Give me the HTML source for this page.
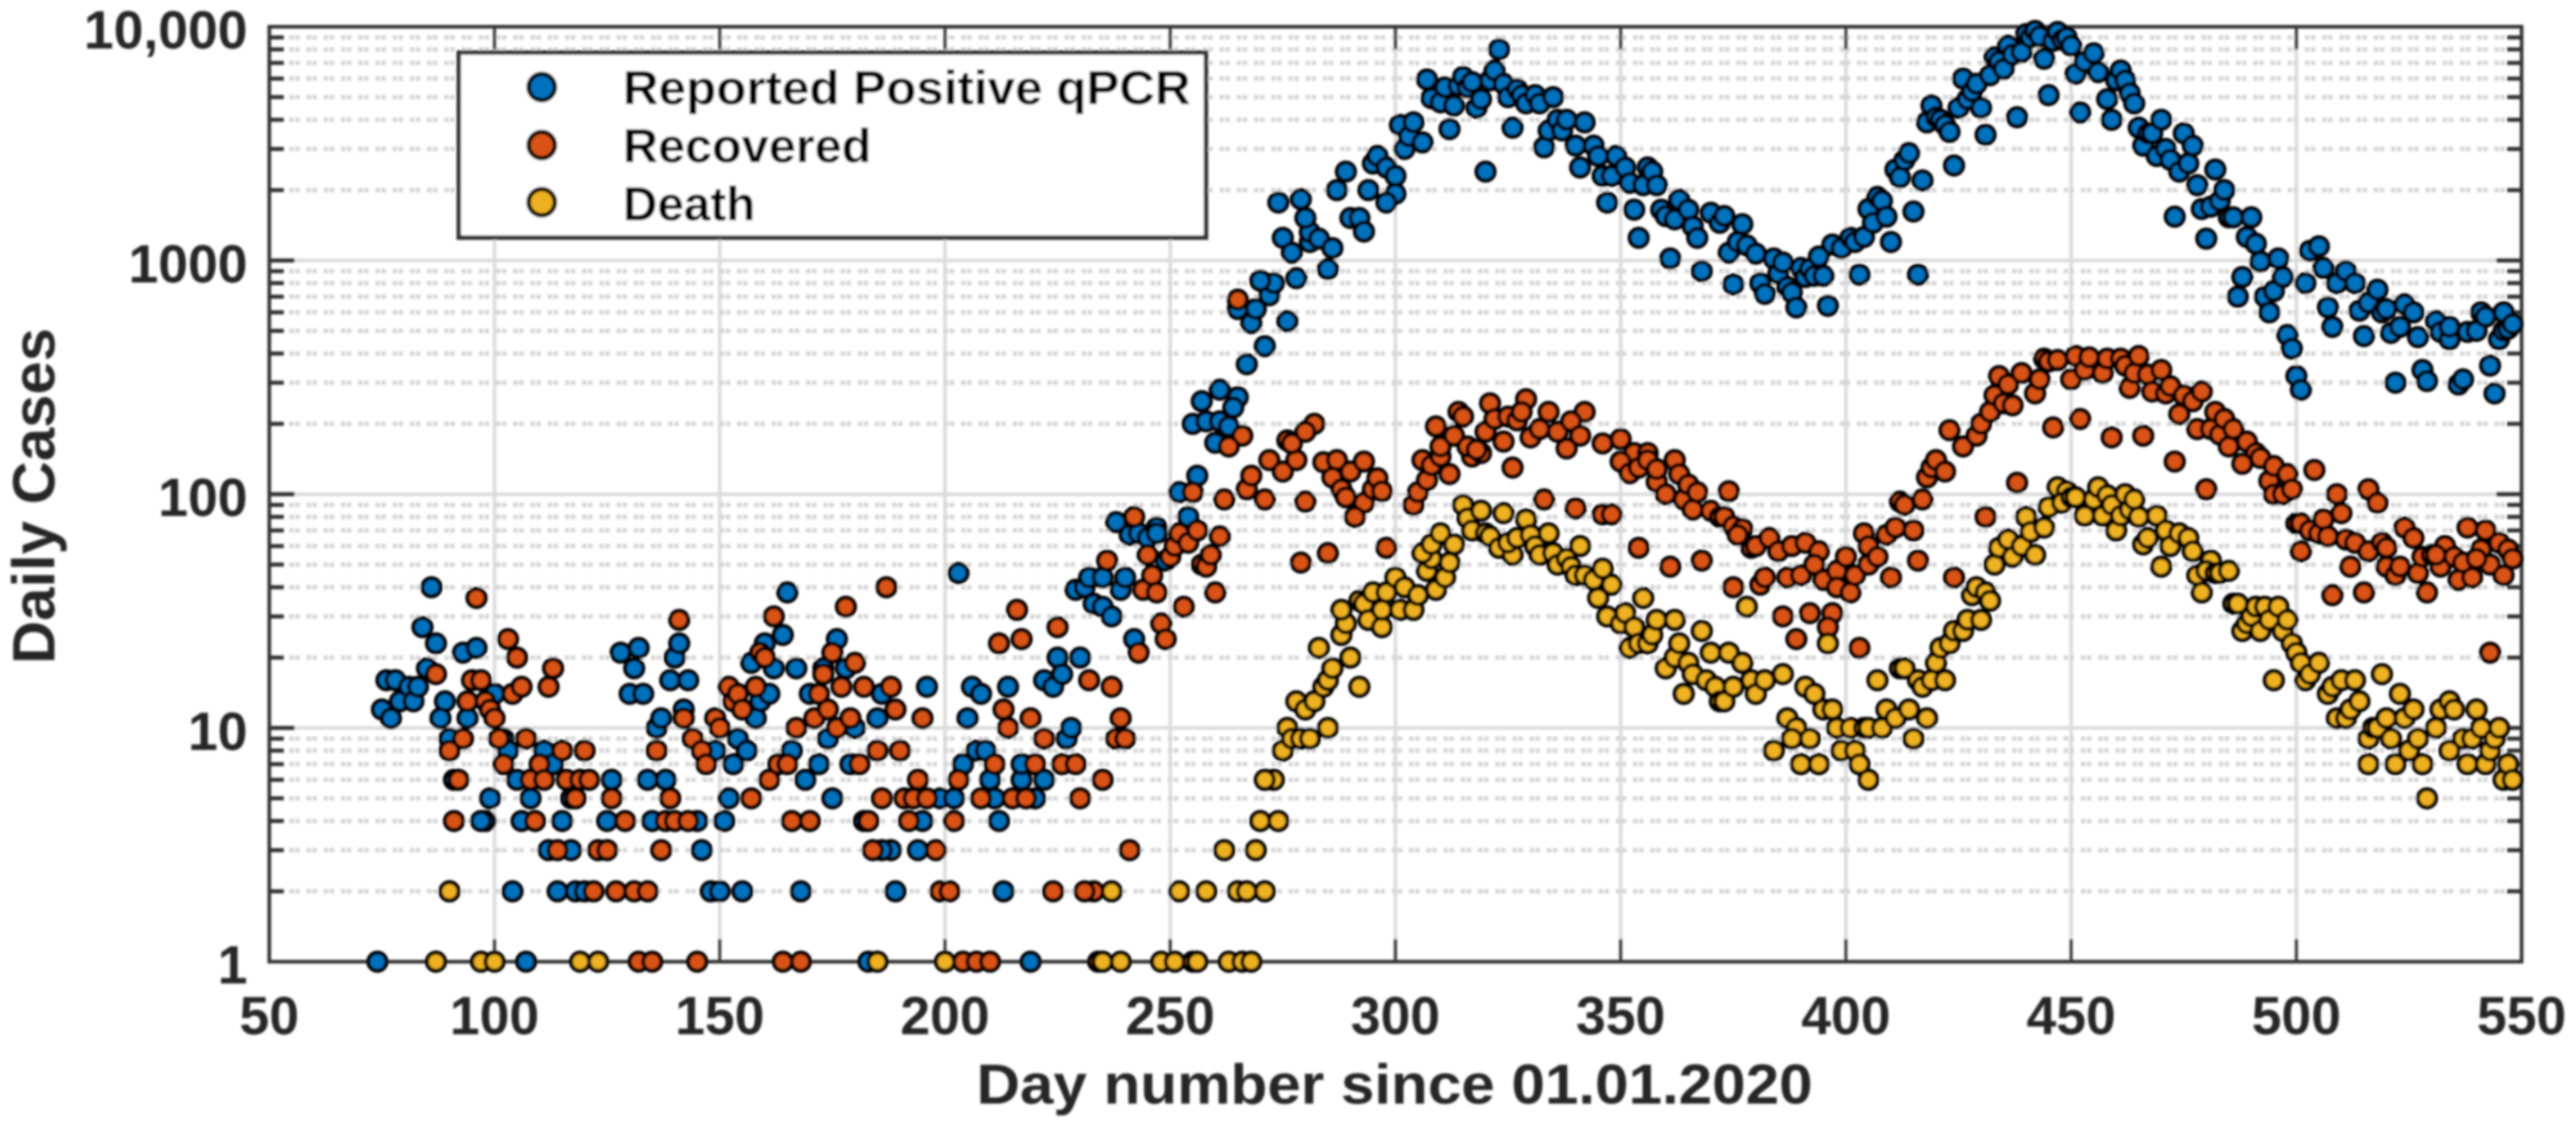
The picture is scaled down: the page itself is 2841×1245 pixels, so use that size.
<!DOCTYPE html>
<html>
<head>
<meta charset="utf-8">
<title>Daily Cases chart</title>
<style>
html,body{margin:0;padding:0;background:#fff;width:2841px;height:1245px;overflow:hidden}
svg{display:block}
text{font-family:"Liberation Sans",Arial,sans-serif;font-weight:bold}
</style>
</head>
<body>
<svg id="chart" xmlns="http://www.w3.org/2000/svg" width="2841" height="1245" viewBox="0 0 2841 1245">
  <defs>
    <filter id="soft" x="-2%" y="-2%" width="104%" height="104%"><feGaussianBlur stdDeviation="1.2"/></filter>
  </defs>
  <g id="root" filter="url(#soft)">
    <g id="grid"></g>
    <g id="axes"></g>
    <g id="marks"></g>
    <text x="1538" y="1217" font-size="62" fill="#262626" text-anchor="middle" textLength="922" lengthAdjust="spacingAndGlyphs">Day number since 01.01.2020</text>
    <text transform="translate(60,547) rotate(-90)" font-size="66" fill="#262626" text-anchor="middle">Daily Cases</text>
    <g>
      <rect x="506" y="58" width="824" height="204" fill="#fff" stroke="#333" stroke-width="5"/>
      <g>
        <circle cx="597.5" cy="96" r="14.5" fill="#0072BD" stroke="#000" stroke-width="5"/>
        <text x="687" y="115" font-size="53" fill="#000" textLength="626" lengthAdjust="spacingAndGlyphs">Reported Positive qPCR</text>
      </g>
      <g>
        <circle cx="597.5" cy="160" r="14.5" fill="#D95319" stroke="#000" stroke-width="5"/>
        <text x="687" y="179" font-size="53" fill="#000" textLength="274" lengthAdjust="spacingAndGlyphs">Recovered</text>
      </g>
      <g>
        <circle cx="597.5" cy="223" r="14.5" fill="#EDB120" stroke="#000" stroke-width="5"/>
        <text x="687" y="243" font-size="53" fill="#000" textLength="146" lengthAdjust="spacingAndGlyphs">Death</text>
      </g>
    </g>
  </g>
</svg>
<script>
const xTickValues = [50,100,150,200,250,300,350,400,450,500,550];
const yTickValues = [1,10,100,1000,10000];
const yTickLabels = ["1","10","100","1000","10,000"];
const minorMultipliers = [2,3,4,5,6,7,8,9];

const reportedDays = [
74,75,77,76,78,79,81,82,83,84,
85,86,87,89,88,90,90,91,93,96,
94,98,97,100,102,103,99,104,105,106,
107,108,111,113,112,115,114,117,117,118,
120,125,126,128,131,132,130,133,134,135,
136,137,138,139,140,141,143,142,145,146,
148,149,150,151,152,153,154,155,156,157,
158,159,160,161,162,164,165,166,167,168,
169,170,172,173,174,175,176,178,179,180,
182,183,185,186,188,189,186,194,195,196,
199,202,203,204,205,206,207,208,209,210,
211,212,213,214,217,217,219,220,222,222,
224,225,226,227,228,230,229,231,232,233,
235,235,237,239,240,238,241,242,243,245,
247,247,249,252,254,256,260,257,255,258,
261,265,261,264,263,267,271,276,268,269,
265,272,273,270,278,275,277,281,281,283,
286,285,274,279,280,287,289,290,292,293,
294,295,296,298,300,300,298,301,302,303,
304,306,307,308,310,311,312,313,314,315,
316,317,318,319,320,321,322,323,324,325,
326,327,328,329,331,332,333,334,335,336,
337,338,340,341,342,344,345,346,347,348,
349,351,352,353,354,355,356,357,358,359,
360,361,362,363,365,366,367,368,370,372,
373,374,376,377,378,380,375,381,382,384,
385,386,387,388,389,390,391,392,393,394,
395,396,397,399,401,402,403,404,405,406,
407,408,409,410,411,412,413,414,415,416,
417,418,419,420,421,422,423,424,425,426,
427,428,429,430,431,432,433,434,435,436,
437,438,439,440,441,442,443,444,445,446,
447,448,449,450,451,452,453,455,456,458,
459,460,461,462,463,464,465,466,467,468,
469,470,471,472,473,474,475,476,477,478,
479,480,481,482,483,484,485,486,488,487,
489,490,491,492,493,494,495,496,497,498,
499,500,501,502,503,505,506,507,508,509,
511,513,514,515,516,518,519,520,521,522,
523,524,526,527,528,529,531,532,534,534,
536,537,538,540,541,542,543,544,545,546,
546,547,548];
const reportedValues = [
1,12,11,16,16,13,15,13,15,27,
18,40,23,13,11,9,2,6,21,22,
11,4,4,14,9,8,5,2,6,4,
1,5,8,7,3,4,2,3,5,2,
2,4,6,21,18,22,14,14,6,4,
10,11,6,16,20,23,16,12,4,3,
2,8,2,4,5,7,9,2,8,19,
11,13,23,14,18,25,38,8,18,2,
6,14,7,18,9,5,24,18,7,10,
4,1,11,14,3,2,3,3,4,15,
5,5,46,7,11,15,8,14,8,6,
5,4,2,15,6,7,1,5,6,16,
15,20,17,9,10,20,39,40,44,34,
44,33,30,39,44,76,67,24,68,65,
72,68,52,102,80,120,166,250,200,205,
280,260,205,235,195,360,430,550,540,620,
620,710,800,820,840,1250,1080,1200,1320,1240,
1130,920,1770,1830,1520,2000,2400,1520,1520,1330,
2000,2600,2800,2500,2300,1930,1770,3800,3000,3400,
3900,3200,5950,4950,4750,5500,3650,4600,5600,6100,
5500,5800,4500,4900,2400,5900,6500,8000,5700,5000,
3700,5400,5100,4700,5100,4700,3050,3600,5000,4000,
3600,4000,3100,2500,3900,3100,2800,2300,1770,2300,
2800,2500,2150,1650,1250,2100,2500,2400,2100,1650,
1550,1020,1500,1820,1650,1400,1250,900,1600,1450,
1550,1080,1200,1430,1160,1070,790,800,720,1020,
880,980,770,730,630,930,850,920,860,1040,
860,640,1170,1130,1250,1200,870,1260,1660,1450,
1870,1800,1540,1200,2450,2270,2690,2880,1620,870,
2200,3900,4600,4100,4000,3800,3550,2550,4500,6000,
4900,5300,5700,4500,3450,6200,7400,7100,6600,8300,
7600,4100,7800,9300,9000,9600,9100,7300,5100,8700,
9500,8800,9000,8300,6300,4300,7100,7700,6400,4900,
4000,5900,6500,5900,5200,4700,3700,3100,3500,3500,
2800,4000,3000,2700,1540,2400,3500,2600,3100,2100,
1660,1240,1700,2450,1800,2000,1530,1530,850,700,
1260,1530,1180,990,700,600,740,1020,850,480,
420,320,280,800,1100,1150,930,630,520,800,
900,800,610,475,660,750,600,620,490,300,
520,650,600,470,340,305,550,495,460,520,
295,310,495,500,600,575,355,270,460,600,
500,510,535];

const recoveredDays = [
87,90,92,91,93,94,95,97,96,98,
99,100,101,103,104,105,106,102,107,108,
109,110,111,112,113,114,115,116,118,119,
120,121,122,123,125,126,127,129,131,134,
136,137,139,138,140,141,142,143,144,146,
147,149,150,152,153,154,155,157,158,159,
160,161,162,163,165,166,167,170,171,172,
173,174,175,176,177,178,179,180,181,182,
183,184,185,186,187,188,189,190,191,192,
132,135,145,164,168,193,194,196,195,198,
199,201,202,203,204,207,210,208,211,212,
213,214,215,216,217,218,219,220,222,224,
225,226,229,230,232,233,231,234,235,237,
238,239,240,241,242,243,244,245,246,247,
236,248,249,250,251,252,253,254,255,256,
257,258,259,260,261,262,267,268,271,272,
275,278,280,279,285,284,287,286,290,293,
288,289,293,291,295,296,297,298,304,305,
307,306,308,310,312,317,319,326,333,340,
346,348,354,361,368,265,282,276,277,280,
266,263,309,314,315,310,313,321,329,334,
342,320,322,324,325,327,328,330,332,336,
339,338,341,346,350,353,356,316,318,350,
352,354,356,358,358,360,362,363,364,365,
366,367,370,372,374,373,375,377,376,379,
380,383,385,388,391,394,375,381,382,387,
390,393,395,398,400,398,401,402,404,405,
405,407,409,410,411,412,413,415,416,417,
418,419,420,422,424,431,438,386,392,397,
396,389,403,423,426,429,430,432,433,435,
434,436,437,439,442,443,444,445,447,450,
451,453,454,457,458,461,462,463,464,465,
467,468,470,471,472,474,475,477,479,478,
481,482,483,484,485,486,489,446,452,459,
466,491,473,480,488,492,494,495,498,495,
497,499,500,501,501,504,503,505,506,507,
509,510,508,511,512,513,515,516,516,518,
519,520,520,522,523,524,526,527,528,529,
530,532,533,535,536,537,538,539,541,542,
543,543,545,546,547,548,540,531];
const recoveredValues = [
17,8,6,4,9,13,16,16,36,13,
12,11,9,24,14,20,15,7,9,6,
4,7,6,15,18,3,8,6,5,6,
8,6,2,3,3,5,2,4,2,2,
8,3,5,4,4,29,11,4,9,8,
7,11,10,15,13,14,12,5,15,21,
20,6,30,7,7,4,10,4,11,14,
17,12,21,10,15,33,11,19,7,15,
4,3,8,5,40,15,12,8,5,4,
1,1,1,1,1,5,6,5,11,3,
2,2,4,6,1,1,1,5,7,23,
12,10,5,32,24,5,11,7,9,2,
27,7,7,5,16,2,2,1,6,15,
9,11,9,3,80,21,39,55,45,38,
52,28,24,54,60,68,33,62,102,70,
50,49,55,38,66,95,105,120,95,140,
125,140,93,51,56,137,140,118,125,138,
105,97,92,80,105,117,103,59,90,102,
115,140,133,145,122,145,150,130,95,87,
82,82,59,49,52,680,200,170,165,185,
178,160,195,225,215,160,178,245,255,225,
225,185,210,168,215,207,225,175,190,185,
205,157,178,165,172,150,150,160,155,138,
123,130,140,113,128,100,140,122,95,110,
86,102,85,80,103,80,73,71,67,59,
60,65,57,60,62,57,40,41,44,44,
45,50,43,47,54,40,38,45,68,50,
60,54,67,44,72,93,90,70,52,95,
118,130,140,125,44,80,112,30,31,31,
27,24,22,188,160,178,200,225,265,245,
320,295,240,330,270,310,380,370,375,310,
390,340,385,330,380,380,355,285,330,390,
325,275,340,270,290,220,265,250,275,190,
190,225,180,210,160,190,168,193,210,175,
178,150,138,105,135,143,114,132,122,100,
100,105,75,57,75,127,70,68,78,66,
100,83,37,64,49,62,38,57,105,92,
62,59,49,45,49,72,65,46,54,38,
55,49,60,54,43,51,72,44,58,70,
21,50,62,45,58,53,53,55];

const deathDays = [
87,97,100,119,123,185,90,200,237,239,
235,248,251,255,256,252,258,262,263,266,
268,265,267,269,271,270,274,273,271,275,
276,277,279,281,278,280,282,285,284,285,
286,283,288,289,288,290,292,292,293,294,
295,297,297,298,300,301,302,304,305,307,
308,309,311,312,306,308,310,313,315,316,
317,319,320,321,323,324,326,325,327,329,
330,331,332,334,335,336,338,339,340,341,
342,344,346,348,345,347,350,351,353,352,
354,356,357,355,358,362,360,362,363,365,
366,368,364,369,371,370,372,374,377,373,
375,378,379,380,382,384,386,387,389,388,
390,391,392,393,394,395,396,397,399,398,
401,402,403,404,405,405,407,408,409,411,
412,413,414,415,416,417,418,419,420,421,
422,423,424,426,427,428,429,430,431,432,
433,434,436,437,439,440,441,442,444,445,
447,449,448,450,451,453,455,456,457,458,
459,460,461,462,463,464,465,466,467,469,
470,471,472,474,476,477,478,479,481,480,
482,483,485,486,487,488,489,490,491,492,
493,494,495,496,497,498,499,500,501,502,
503,505,507,508,509,510,511,512,513,514,
516,516,517,518,519,520,521,522,523,524,
525,526,527,528,529,531,532,534,534,535,
537,538,539,540,541,542,543,544,545,546,
547,548];
const deathValues = [
1,1,1,1,1,1,2,1,2,1,
1,1,1,1,1,2,2,3,1,1,
1,2,2,3,2,4,4,6,6,8,
10,9,9,9,13,12,13,10,15,16,
18,22,25,28,32,20,15,35,34,29,
38,27,32,38,44,32,40,32,37,47,
53,39,44,51,56,61,68,61,90,79,
70,85,68,66,59,83,55,62,65,78,
67,60,55,68,56,50,53,49,45,60,
45,43,48,41,36,30,28,31,27,22,
23,23,25,36,29,29,18,20,23,19,
17,26,14,16,15,21,13,21,19,13,
15,33,16,14,16,8,17,11,10,9,
7,15,9,14,7,12,23,12,8,10,
10,8,7,10,6,10,16,10,12,11,
18,18,12,9,16,15,11,16,19,22,
16,23,26,26,29,37,40,29,38,35,
50,59,64,54,60,80,69,55,72,88,
107,103,92,97,97,81,95,107,81,99,
90,70,81,100,86,95,80,61,65,81,
49,70,60,68,65,57,45,38,52,47,
46,46,47,34,34,26,28,30,33,26,
33,29,16,33,26,29,23,21,19,16,
17,19,14,15,11,16,11,12,16,13,
7,9,10,10,17,11,9,7,14,11,
8,12,9,7,5,10,12,8,13,12,
9,7,9,12,10,7,8,9,10,6,
7,6];

const PLOT_LEFT = 297, PLOT_RIGHT = 2781, PLOT_TOP = 29.5, PLOT_BOTTOM = 1060.5;
const X_MIN = 50, X_MAX = 550, Y_MIN_LOG = 0, Y_MAX_LOG = 4;
const SVG_NS = "http://www.w3.org/2000/svg";

function xScale(day) {
  return PLOT_LEFT + (day - X_MIN) / (X_MAX - X_MIN) * (PLOT_RIGHT - PLOT_LEFT);
}
function yScale(value) {
  return PLOT_BOTTOM - (Math.log10(value) - Y_MIN_LOG) / (Y_MAX_LOG - Y_MIN_LOG) * (PLOT_BOTTOM - PLOT_TOP);
}
function make(parent, tag, props) {
  const el = document.createElementNS(SVG_NS, tag);
  for (const key in props) el.setAttribute(key, props[key]);
  parent.appendChild(el);
  return el;
}
function line(parent, x1, y1, x2, y2, stroke, width, dash) {
  const props = {x1: x1, y1: y1, x2: x2, y2: y2, stroke: stroke, "stroke-width": width};
  if (dash) props["stroke-dasharray"] = dash;
  return make(parent, "line", props);
}

const gridLayer = document.getElementById("grid");
const axesLayer = document.getElementById("axes");
const marksLayer = document.getElementById("marks");

/* vertical major grid + x ticks */
xTickValues.forEach(function (tick) {
  const x = xScale(tick);
  if (tick !== X_MIN && tick !== X_MAX) {
    const g = line(gridLayer, x, PLOT_TOP, x, PLOT_BOTTOM, "#dcdcdc", 4);
    
    
    const t1 = line(axesLayer, x, PLOT_BOTTOM, x, PLOT_BOTTOM - 25, "#333", 3.5);
    
    
    const t2 = line(axesLayer, x, PLOT_TOP, x, PLOT_TOP + 25, "#333", 3.5);
    
    
  }
  const label = make(axesLayer, "text", {x: x, y: PLOT_BOTTOM + 80, "font-size": 59, "text-anchor": "middle", fill: "#262626"});
  label.textContent = String(tick);
  
  
});

/* horizontal grid + y ticks */
yTickValues.forEach(function (tick, i) {
  const y = yScale(tick);
  if (tick !== 1 && tick !== 10000) {
    const g = line(gridLayer, PLOT_LEFT, y, PLOT_RIGHT, y, "#dcdcdc", 4);
    
    
    const t1 = line(axesLayer, PLOT_LEFT, y, PLOT_LEFT + 28, y, "#333", 4.5);
    
    
    const t2 = line(axesLayer, PLOT_RIGHT, y, PLOT_RIGHT - 28, y, "#333", 4.5);
    
    
  }
  const label = make(axesLayer, "text", {x: 273, y: y + 24, "font-size": 59, "text-anchor": "end", fill: "#262626"});
  label.textContent = yTickLabels[i];
  
  
  if (tick !== 10000) {
    minorMultipliers.forEach(function (m) {
      const my = yScale(tick * m);
      const g2 = line(gridLayer, PLOT_LEFT + 22, my, PLOT_RIGHT - 17, my, "#d6d6d6", 5, "5 1.5 5 7.5");
      
      
      const t3 = line(axesLayer, PLOT_LEFT, my, PLOT_LEFT + 16, my, "#333", 4.5);
      
      
      const t4 = line(axesLayer, PLOT_RIGHT, my, PLOT_RIGHT - 16, my, "#333", 4.5);
      
      
    });
  }
});

/* axes frame */
const frame = make(axesLayer, "rect", {x: PLOT_LEFT, y: PLOT_TOP, width: PLOT_RIGHT - PLOT_LEFT, height: PLOT_BOTTOM - PLOT_TOP, fill: "none", stroke: "#333", "stroke-width": 4});



/* series */
function drawSeries(days, values, fill, pointName) {
  days.forEach(function (day, i) {
    const dot = make(marksLayer, "circle", {cx: xScale(day), cy: yScale(values[i]), r: 10, fill: fill, stroke: "#000", "stroke-width": 4.5});
    
    
  });
}
drawSeries(reportedDays, reportedValues, "#0072BD", "reported-positive-point");
drawSeries(recoveredDays, recoveredValues, "#D95319", "recovered-point");
drawSeries(deathDays, deathValues, "#EDB120", "death-point");
</script>
</body>
</html>
